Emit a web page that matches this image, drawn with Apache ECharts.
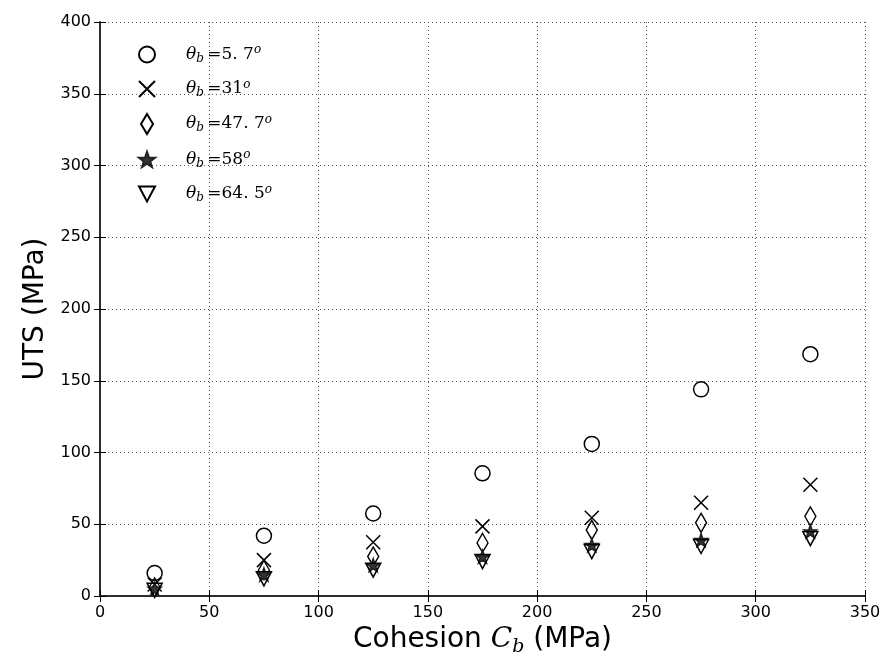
<!DOCTYPE html>
<html><head><meta charset="utf-8">
<script src="https://cdn.jsdelivr.net/npm/echarts@6/dist/echarts.min.js"></script>
<style>html,body{margin:0;padding:0;background:#fff}#c{width:884px;height:668px}</style>
</head><body><div id="c"></div>
<script>
const cohesion = [25, 75, 125, 175, 225, 275, 325];
const uts_5_7  = [16, 42, 57.5, 85.5, 106, 144, 168.5];
const uts_31   = [8, 25, 37.5, 48.5, 54.5, 65, 77.5];
const uts_47_7 = [6, 18, 27.5, 37, 46, 51, 55.5];
const uts_58   = [5, 15, 21.5, 27.5, 35.5, 39, 45];
const uts_64_5 = [4, 12, 18, 24, 31, 34.5, 40];
const seriesNames = ['5. 7', '31', '47. 7', '58', '64. 5'];
const xTicks = [0, 350, 50];
const yTicks = [0, 400, 50];

const SYM = {
  circle: 'circle',
  x: 'path://M0,0L10,10M10,0L0,10',
  diamond: 'path://M6,0L12,10L6,20L0,10Z',
  star: 'path://M10,0L12.35,6.76L19.51,6.91L13.8,11.24L15.88,18.09L10,14L4.12,18.09L6.2,11.24L0.49,6.91L7.65,6.76Z',
  tri: 'path://M0,0L14,0L7,13Z'
};
const clear = 'rgba(0,0,0,0)';
const styles = [
  {symbol: SYM.circle, size: 15, color: clear, border: '#000'},
  {symbol: SYM.x, size: [14,14], color: clear, border: '#000'},
  {symbol: SYM.diamond, size: [11,19], color: clear, border: '#000'},
  {symbol: SYM.star, size: [13,13], color: '#333', border: '#222'},
  {symbol: SYM.tri, size: [15,14], color: clear, border: '#000'}
];
const values = [uts_5_7, uts_31, uts_47_7, uts_58, uts_64_5];

const series = values.map((v, i) => ({
  name: seriesNames[i],
  type: 'scatter',
  symbol: styles[i].symbol,
  symbolSize: styles[i].size,
  itemStyle: {color: styles[i].color, borderColor: styles[i].border, borderWidth: 1.5, opacity: 1},
  data: cohesion.map((c, j) => [c, v[j]]),
  z: 2 + i
}));

const gridLine = {show: true, lineStyle: {color: '#555', type: [1, 3], width: 1}};
const axisLine = {show: true, lineStyle: {color: '#222', width: 1.5}};
const tick = {show: true, inside: true, length: 6, lineStyle: {color: '#000'}};
const label = {color: '#000', fontSize: 16, fontFamily: 'DejaVu Sans'};

const chart = echarts.init(document.getElementById('c'));
chart.setOption({
  animation: false,
  grid: {left: 100, right: 19, top: 22, bottom: 72},
  xAxis: [
    {type: 'value', min: xTicks[0], max: xTicks[1], interval: xTicks[2], position: 'bottom',
     axisLine, axisTick: tick, axisLabel: {...label, margin: 9}, splitLine: gridLine,
     name: 'Cohesion {c|C}{s|b} (MPa)', nameLocation: 'middle', nameGap: 27,
     nameTextStyle: {color: '#000', fontSize: 28, fontFamily: 'DejaVu Sans',
       rich: {c: {fontSize: 28, fontFamily: 'DejaVu Serif', fontStyle: 'italic', color: '#000'},
              s: {fontSize: 19, fontFamily: 'DejaVu Serif', fontStyle: 'italic', color: '#000', padding: [14, 0, 0, 0]}}}},
    {type: 'value', min: xTicks[0], max: xTicks[1], interval: xTicks[2], position: 'top',
     axisLine, axisTick: tick, axisLabel: {show: false}, splitLine: {show: false}}
  ],
  yAxis: [
    {type: 'value', min: yTicks[0], max: yTicks[1], interval: yTicks[2], position: 'left',
     axisLine, axisTick: tick, axisLabel: {...label, margin: 9}, splitLine: gridLine,
     name: 'UTS (MPa)', nameLocation: 'middle', nameGap: 50,
     nameTextStyle: {color: '#000', fontSize: 28, fontFamily: 'DejaVu Sans'}},
    {type: 'value', min: yTicks[0], max: yTicks[1], interval: yTicks[2], position: 'right',
     axisLine, axisTick: tick, axisLabel: {show: false}, splitLine: {show: false}}
  ],
  legend: {
    orient: 'vertical', left: 133, top: 39, itemGap: 14, itemWidth: 16, itemHeight: 20,
    data: seriesNames,
    formatter: n => '{t|θ}{s|b} {e|=' + n + '}{o|o}',
    textStyle: {color: '#000', padding: [0, 0, 0, 26],
      rich: {
        t: {fontFamily: 'DejaVu Serif', fontStyle: 'italic', fontSize: 17, color: '#000'},
        s: {fontFamily: 'DejaVu Serif', fontStyle: 'italic', fontSize: 12, color: '#000', padding: [8, 0, 0, 0]},
        e: {fontFamily: 'DejaVu Serif', fontSize: 17, color: '#000'},
        o: {fontFamily: 'DejaVu Serif', fontStyle: 'italic', fontSize: 12, color: '#000', padding: [0, 0, 9, 0]}
      }}
  },
  series
});
</script></body></html>
